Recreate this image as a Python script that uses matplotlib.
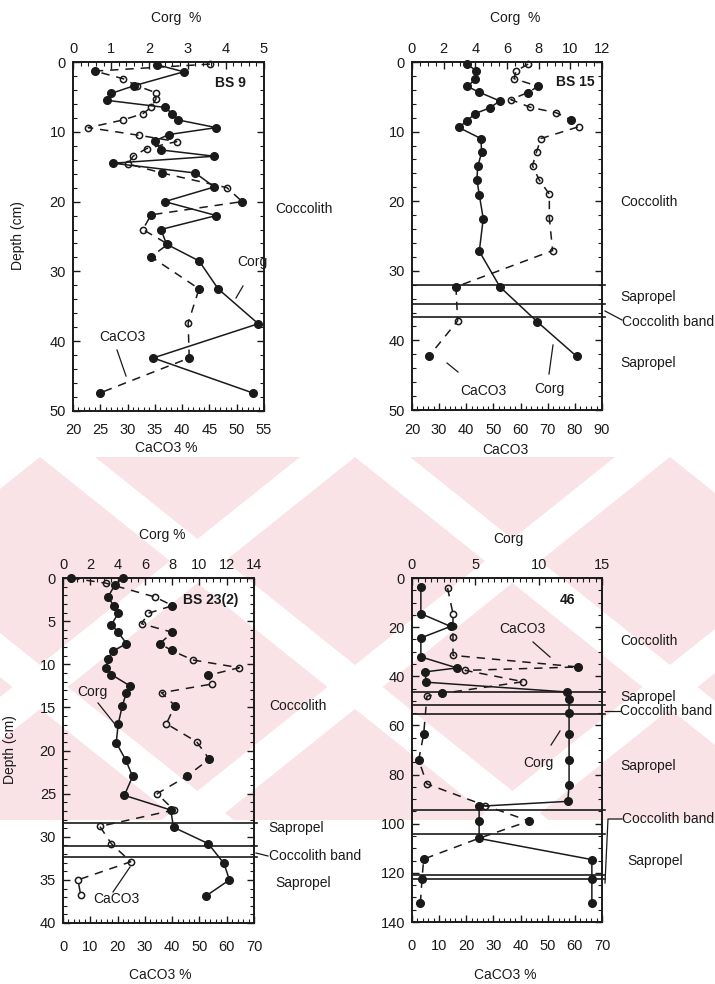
import matplotlib
matplotlib.use("Agg")
import matplotlib.pyplot as plt
from matplotlib.ticker import MultipleLocator
from matplotlib.patches import Polygon, Rectangle

plt.rcParams['font.family'] = ['Liberation Sans', 'DejaVu Sans']

### data

# BS 9
bs9_corg_depth = [0.4, 1.4, 3.4, 4.5, 5.5, 6.5, 7.4, 8.3, 9.4, 10.4, 11.3, 12.6, 13.5, 14.5,
                  15.9, 17.9, 20.0, 22.0, 24.0, 26.1, 28.5, 32.5, 37.5, 42.4, 47.4]
bs9_corg = [2.2, 2.9, 1.6, 1.0, 0.9, 2.4, 2.6, 2.75, 3.75, 2.5, 2.15, 2.3, 3.7, 1.05,
            3.2, 3.7, 2.4, 3.75, 2.3, 2.45, 3.3, 3.8, 4.85, 2.1, 4.7]
bs9_ca_depth = [0.3, 1.3, 2.4, 3.4, 4.4, 5.3, 6.5, 7.4, 8.3, 9.4, 10.5, 11.4, 12.4, 13.5,
                14.6, 15.9, 18.0, 20.0, 21.9, 24.0, 26.1, 27.9, 32.5, 37.4, 42.4, 47.4]
bs9_ca = [45.1, 24.0, 29.2, 31.7, 35.2, 35.2, 34.3, 32.8, 29.2, 22.8, 32.1, 39.0, 33.5, 31.0,
          30.1, 36.3, 48.2, 51.0, 34.3, 32.8, 37.4, 34.3, 43.1, 41.1, 41.3, 25.0]

# BS 15
bs15_corg_depth = [0.3, 1.3, 2.5, 3.5, 4.3, 5.6, 6.6, 7.4, 8.5, 9.4, 11.0, 13.0, 15.0, 16.9,
                   19.1, 22.5, 27.2, 32.3, 37.3, 42.3]
bs15_corg = [3.5, 4.05, 4.0, 3.5, 4.2, 5.55, 4.9, 4.0, 3.45, 2.95, 4.35, 4.4, 4.15, 4.1,
             4.25, 4.5, 4.25, 5.55, 7.9, 10.4]
bs15_ca_depth = [0.3, 1.3, 2.4, 3.5, 4.4, 5.4, 6.5, 7.3, 8.3, 9.3, 11.0, 12.9, 14.9, 16.9,
                 19.0, 22.4, 27.1, 32.3, 37.2, 42.2]
bs15_ca = [62.8, 58.3, 57.6, 66.5, 62.6, 56.4, 63.5, 73.2, 78.5, 81.4, 67.5, 65.9, 64.4, 66.8,
           70.6, 70.6, 71.8, 36.2, 36.8, 26.4]
bs15_layers = [32.1, 34.7, 36.6]

# BS 23(2)
bs23_corg_depth = [0.0, 0.8, 2.2, 3.3, 4.1, 5.4, 6.3, 7.6, 8.5, 9.4, 10.4, 11.2, 12.5, 13.3,
                   14.8, 16.9, 19.1, 21.1, 23.0, 25.2, 26.9, 28.9, 30.8, 33.1, 35.0, 36.9]
bs23_corg = [4.4, 3.8, 3.3, 3.75, 4.05, 3.55, 4.05, 4.65, 3.65, 3.3, 3.15, 3.55, 4.9, 4.65,
             4.35, 4.05, 3.9, 4.6, 5.1, 4.5, 7.9, 8.1, 10.65, 11.8, 12.2, 10.45]
bs23_ca_depth = [0.0, 0.6, 2.2, 3.2, 4.1, 5.3, 6.3, 7.6, 8.4, 9.5, 10.4, 11.3, 12.3, 13.3,
                 14.8, 16.9, 19.0, 21.0, 23.0, 25.0, 26.9, 28.8, 30.8, 32.9, 35.0, 36.8]
bs23_ca = [3.0, 15.7, 33.7, 40.1, 31.2, 28.8, 40.1, 35.5, 39.8, 47.5, 64.6, 53.0, 54.5, 36.1,
           41.0, 37.9, 49.0, 53.6, 45.3, 34.5, 40.6, 13.5, 17.7, 24.8, 5.5, 6.5]
bs23_layers = [28.4, 31.1, 32.4]

# core 46
c46_corg_depth = [3.8, 14.5, 19.7, 24.4, 32.1, 36.6, 38.2, 42.4, 46.4, 49.2, 54.9, 63.6, 74.1,
                  84.2, 90.9, 92.9, 98.9, 106.0, 114.6, 122.7, 132.2]
c46_corg = [0.7, 0.7, 3.05, 0.7, 0.7, 3.55, 1.05, 1.1, 12.25, 12.4, 12.4, 12.4, 12.4,
            12.4, 12.3, 5.3, 5.3, 5.3, 14.2, 14.2, 14.2]
c46_ca_depth = [4.1, 14.5, 19.7, 24.1, 31.5, 36.2, 37.6, 42.2, 47.0, 48.1, 63.6, 74.1, 83.8,
                92.6, 98.9, 106.0, 114.4, 122.4, 132.1]
c46_ca = [13.1, 15.1, 15.1, 15.1, 15.1, 61.2, 19.6, 41.0, 11.0, 5.5, 4.3, 2.45, 5.5,
          26.9, 43.2, 24.5, 4.3, 3.7, 3.1]
c46_layers = [46.4, 51.5, 55.2, 94.6, 104.3, 120.8, 122.4]

# which CaCO3 points are drawn as filled dots in the scan (the rest are open)
bs9_ca_filled = [1, 15, 17, 18, 21, 22, 24, 25]
bs15_ca_filled = [3, 4, 8, 17, 19]
bs23_ca_filled = [0, 3, 6, 7, 8, 11, 14, 17, 18]
c46_ca_filled = [5, 8, 10, 11, 14, 16, 17, 18]

W, H = 715, 984
INK = '#1a1a1a'
fig = plt.figure(figsize=(W / 100, H / 100), dpi=100)

def px_rect(left, top, right, bottom):
    return [left / W, 1 - bottom / H, (right - left) / W, (bottom - top) / H]

# faint pink watermark band of the scan (big diagonal crosses)
bg = fig.add_axes([0, 0, 1, 1], zorder=-10)
bg.set_xlim(0, W)
bg.set_ylim(H, 0)
bg.axis('off')
band = Rectangle((0, 457), W, 363, color='#f9e3e7', lw=0)
bg.add_patch(band)
slope = 1.25
for x0, sgn in [(-275, 1), (40, 1), (355, 1), (670, 1),
                (-15, -1), (300, -1), (615, -1), (930, -1)]:
    dx = slope * 363 * sgn
    p = Polygon([(x0, 457), (x0 + 55, 457), (x0 + 55 + dx, 820), (x0 + dx, 820)],
                closed=True, color='white', lw=0)
    bg.add_patch(p)
    p.set_clip_path(band)

# overlay for labels and leader lines, in pixel coordinates
ov = fig.add_axes([0, 0, 1, 1], zorder=10)
ov.set_xlim(0, W)
ov.set_ylim(H, 0)
ov.axis('off')
ov.patch.set_alpha(0)

def txt(x, y, s, size=10, ha='left', **kw):
    ov.text(x, y, s, fontsize=size, ha=ha, va='center', color=INK, **kw)

def leader(xs, ys):
    ov.plot(xs, ys, color=INK, lw=0.9)


def panel(rect, ca_lim, ca_major, ca_minor, corg_lim, corg_major, corg_minor,
          depth_max, d_major, d_minor, corg_d, corg, ca_d, ca, filled, layers=(),
          bpad=8):
    ax = fig.add_axes(rect)
    ax.patch.set_alpha(0)
    top = ax.twiny()
    ax.set_xlim(*ca_lim)
    top.set_xlim(*corg_lim)
    ax.set_ylim(depth_max, 0)

    ax.xaxis.set_major_locator(MultipleLocator(ca_major))
    ax.xaxis.set_minor_locator(MultipleLocator(ca_minor))
    top.xaxis.set_major_locator(MultipleLocator(corg_major))
    top.xaxis.set_minor_locator(MultipleLocator(corg_minor))
    ax.yaxis.set_major_locator(MultipleLocator(d_major))
    ax.yaxis.set_minor_locator(MultipleLocator(d_minor))

    for a in (ax, top):
        a.tick_params(which='major', direction='in', length=5, width=1, colors=INK, labelsize=10.5)
        a.tick_params(which='minor', direction='in', length=2.8, width=0.8, colors=INK)
        for s in a.spines.values():
            s.set_linewidth(1.2)
            s.set_color(INK)
    ax.tick_params(axis='x', which='both', bottom=True, top=False, pad=bpad)
    ax.tick_params(axis='y', which='both', left=True, right=True, pad=5)
    top.tick_params(axis='x', which='both', top=True, bottom=False, pad=4)

    # CaCO3: dashed with open / filled dots
    ax.plot(ca, ca_d, color=INK, lw=1.1, dashes=(5.5, 4.5), clip_on=False)
    ax.plot(ca, ca_d, ls='none', marker='o', ms=4.5, mfc='none', mec=INK, mew=1.1, clip_on=False)
    ax.plot([ca[i] for i in filled], [ca_d[i] for i in filled], ls='none', marker='o',
            ms=5.5, color=INK, clip_on=False)
    # Corg: solid with filled dots
    top.plot(corg, corg_d, color=INK, lw=1.1, marker='o', ms=5.5, clip_on=False)

    for d in layers:
        ax.axhline(d, xmin=0, xmax=1.015, color=INK, lw=1.2, clip_on=False)
    return ax, top


# panel BS 9
panel(px_rect(73, 62, 264, 411), (20, 55), 5, 1, (0, 5), 1, 0.2, 50, 10, 2,
      bs9_corg_depth, bs9_corg, bs9_ca_depth, bs9_ca, bs9_ca_filled, bpad=9)
txt(176, 18, 'Corg  %', ha='center')
txt(166, 448, 'CaCO3 %', ha='center')
txt(18, 236, 'Depth (cm)', ha='center', rotation=90)
txt(230, 83, 'BS 9', ha='center', weight='bold')
txt(275, 209, 'Coccolith')
txt(237, 262, 'Corg')
leader([243, 236], [286, 298])
txt(122, 337, 'CaCO3', ha='center')
leader([117, 126], [350, 376])

# panel BS 15
panel(px_rect(412, 62, 602, 410), (20, 90), 10, 2, (0, 12), 2, 0.5, 50, 10, 2,
      bs15_corg_depth, bs15_corg, bs15_ca_depth, bs15_ca, bs15_ca_filled, bs15_layers, bpad=9)
txt(515, 18, 'Corg  %', ha='center')
txt(505, 450, 'CaCO3', ha='center')
txt(575, 82, 'BS 15', ha='center', weight='bold')
txt(620, 202, 'Coccolith')
txt(620, 297, 'Sapropel')
txt(622, 322, 'Coccolith band')
leader([605, 622], [311, 320])
txt(620, 363, 'Sapropel')
txt(483, 391, 'CaCO3', ha='center')
leader([447, 458], [363, 372])
txt(549, 389, 'Corg', ha='center')
leader([549, 553], [374, 345])

# panel BS 23(2)
panel(px_rect(63, 578, 254, 923), (0, 70), 10, 2, (0, 14), 2, 0.5, 40, 5, 1,
      bs23_corg_depth, bs23_corg, bs23_ca_depth, bs23_ca, bs23_ca_filled, bs23_layers, bpad=12)
txt(162, 535, 'Corg %', ha='center')
txt(160, 975, 'CaCO3 %', ha='center')
txt(10, 750, 'Depth (cm)', ha='center', rotation=90)
txt(211, 600, 'BS 23(2)', ha='center', weight='bold')
txt(269, 706, 'Coccolith')
txt(268, 828, 'Sapropel')
txt(269, 856, 'Coccolith band')
leader([256, 268], [853, 856])
txt(275, 883, 'Sapropel')
txt(92, 692, 'Corg', ha='center')
leader([98, 114], [703, 723])
txt(93, 899, 'CaCO3')
leader([113, 130], [892, 867])

# panel 46
panel(px_rect(412, 578, 602, 922), (0, 70), 10, 2, (0, 15), 5, 0.5, 140, 20, 5,
      c46_corg_depth, c46_corg, c46_ca_depth, c46_ca, c46_ca_filled, c46_layers, bpad=12)
txt(508, 539, 'Corg', ha='center')
txt(505, 975, 'CaCO3 %', ha='center')
txt(568, 600, '46', ha='center', weight='bold')
txt(620, 641, 'Coccolith')
txt(620, 697, 'Sapropel')
txt(620, 711, 'Coccolith band')
leader([605, 620], [711, 711])
txt(620, 766, 'Sapropel')
txt(622, 819, 'Coccolith band')
leader([622, 608, 605], [819, 819, 883])
txt(627, 861, 'Sapropel')
txt(522, 629, 'CaCO3', ha='center')
leader([533, 550], [642, 657])
txt(538, 763, 'Corg', ha='center')
leader([551, 560], [745, 731])

fig.savefig('out.png', dpi=100)
